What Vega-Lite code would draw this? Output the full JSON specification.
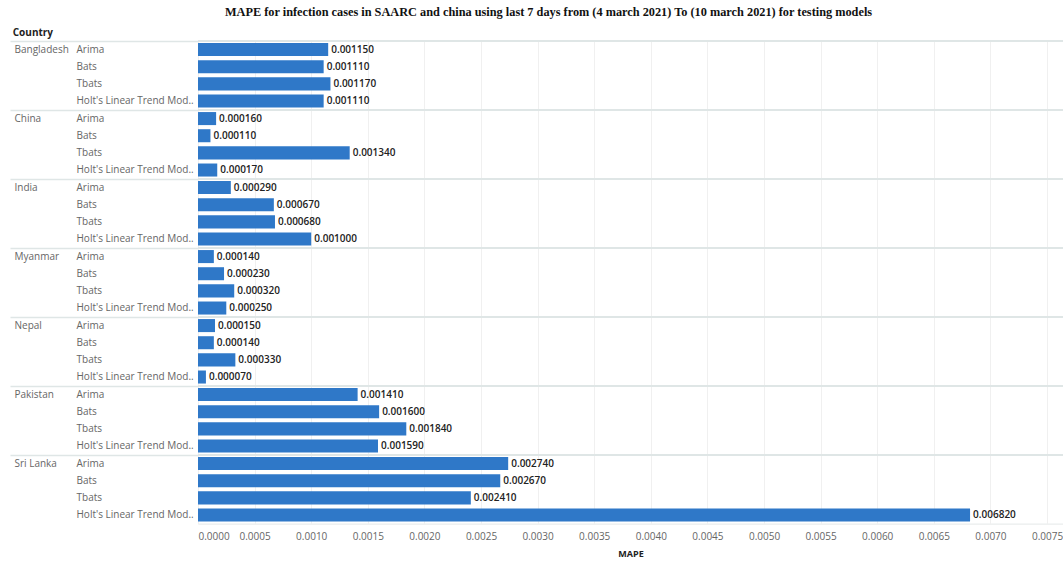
{
  "$schema": "https://vega.github.io/schema/vega-lite/v6.json",
  "background": "white",
  "padding": {"left": 8, "top": 6, "right": 0, "bottom": 2},
  "title": {"text": "MAPE for infection cases in SAARC and china using last 7 days from (4 march 2021)  To  (10 march 2021)  for testing models", "font": "Liberation Serif", "fontSize": 12.3, "fontWeight": "bold", "color": "#111", "anchor": "middle", "frame": "bounds", "offset": 9, "dx": 12},
  "data": {"values": [
    {"Country": "Bangladesh", "Model": "Arima", "MAPE": 0.00115},
    {"Country": "Bangladesh", "Model": "Bats", "MAPE": 0.00111},
    {"Country": "Bangladesh", "Model": "Tbats", "MAPE": 0.00117},
    {"Country": "Bangladesh", "Model": "Holt's Linear Trend Model", "MAPE": 0.00111},
    {"Country": "China", "Model": "Arima", "MAPE": 0.00016},
    {"Country": "China", "Model": "Bats", "MAPE": 0.00011},
    {"Country": "China", "Model": "Tbats", "MAPE": 0.00134},
    {"Country": "China", "Model": "Holt's Linear Trend Model", "MAPE": 0.00017},
    {"Country": "India", "Model": "Arima", "MAPE": 0.00029},
    {"Country": "India", "Model": "Bats", "MAPE": 0.00067},
    {"Country": "India", "Model": "Tbats", "MAPE": 0.00068},
    {"Country": "India", "Model": "Holt's Linear Trend Model", "MAPE": 0.001},
    {"Country": "Myanmar", "Model": "Arima", "MAPE": 0.00014},
    {"Country": "Myanmar", "Model": "Bats", "MAPE": 0.00023},
    {"Country": "Myanmar", "Model": "Tbats", "MAPE": 0.00032},
    {"Country": "Myanmar", "Model": "Holt's Linear Trend Model", "MAPE": 0.00025},
    {"Country": "Nepal", "Model": "Arima", "MAPE": 0.00015},
    {"Country": "Nepal", "Model": "Bats", "MAPE": 0.00014},
    {"Country": "Nepal", "Model": "Tbats", "MAPE": 0.00033},
    {"Country": "Nepal", "Model": "Holt's Linear Trend Model", "MAPE": 0.00007},
    {"Country": "Pakistan", "Model": "Arima", "MAPE": 0.00141},
    {"Country": "Pakistan", "Model": "Bats", "MAPE": 0.0016},
    {"Country": "Pakistan", "Model": "Tbats", "MAPE": 0.00184},
    {"Country": "Pakistan", "Model": "Holt's Linear Trend Model", "MAPE": 0.00159},
    {"Country": "Sri Lanka", "Model": "Arima", "MAPE": 0.00274},
    {"Country": "Sri Lanka", "Model": "Bats", "MAPE": 0.00267},
    {"Country": "Sri Lanka", "Model": "Tbats", "MAPE": 0.00241},
    {"Country": "Sri Lanka", "Model": "Holt's Linear Trend Model", "MAPE": 0.00682}
  ]},
  "vconcat": [
    {
      "title": {"text": "Country", "anchor": "start", "frame": "bounds", "font": "Open Sans", "fontSize": 10, "fontWeight": "bold", "color": "#222", "offset": 2, "dx": 4},
      "facet": {
        "row": {"field": "Country", "type": "nominal", "header": {"labels": false, "title": null, "labelPadding": 0, "titlePadding": 0}}
      },
      "spacing": {"row": 0},
      "bounds": "flush",
      "resolve": {"scale": {"y": "independent"}, "axis": {"y": "independent"}},
      "spec": {
        "width": 865,
        "height": 68.6,
        "resolve": {"scale": {"y": "independent"}, "axis": {"y": "independent"}},
        "layer": [
          {
            "encoding": {
              "y": {"field": "Model", "type": "nominal", "sort": ["Arima", "Bats", "Tbats", "Holt's Linear Trend Model"],
                "scale": {"paddingInner": 0.24, "paddingOuter": 0.12},
                "axis": {"title": null, "orient": "left", "labelAlign": "left", "labelPadding": 122, "labelLimit": 125, "ticks": false, "domain": false, "grid": false,
                  "labelFont": "Open Sans", "labelFontSize": 10, "labelColor": "#666",
                  "labelExpr": "datum.label == \"Holt's Linear Trend Model\" ? \"Holt's Linear Trend Mod..\" : datum.label"}},
              "x": {"field": "MAPE", "type": "quantitative",
                "scale": {"domain": [0, 0.007641], "nice": false},
                "axis": {"title": "MAPE", "values": [0, 0.0005, 0.001, 0.0015, 0.002, 0.0025, 0.003, 0.0035, 0.004, 0.0045, 0.005, 0.0055, 0.006, 0.0065, 0.007, 0.0075],
                  "format": ".4f", "grid": true, "gridColor": "#f0f0f0", "domain": false, "ticks": false,
                  "labelFont": "Open Sans", "labelFontSize": 10, "labelColor": "#666", "labelPadding": 7,
                  "titleFont": "Open Sans", "titleFontSize": 9, "titleFontWeight": "bold", "titleColor": "#222", "titlePadding": 8}}
            },
            "layer": [
              {"mark": {"type": "bar", "color": "#2f78c8"}},
              {"mark": {"type": "text", "align": "left", "dx": 3, "font": "Open Sans", "fontSize": 10, "fontWeight": 600, "color": "#222"},
                "encoding": {"text": {"field": "MAPE", "type": "quantitative", "format": ".6f"}}}
            ]
          },
          {
            "mark": {"type": "rule", "color": "#dfe6e6", "strokeWidth": 1.5},
            "encoding": {
              "y": {"field": "Country", "type": "nominal", "bandPosition": 0,
                "scale": {"paddingInner": 0, "paddingOuter": 0},
                "axis": {"title": null, "orient": "left", "bandPosition": 0, "ticks": true, "tickSize": 188, "tickColor": "#dfe6e6", "tickWidth": 1.5, "domain": false, "grid": false,
                  "labelAlign": "left", "labelBaseline": "middle", "labelOffset": -25.7, "labelPadding": -4,
                  "labelFont": "Open Sans", "labelFontSize": 10, "labelColor": "#666"}}
            }
          }
        ]
      }
    }
  ],
  "config": {"view": {"stroke": "#e4e8e8", "strokeWidth": 1}}
}
